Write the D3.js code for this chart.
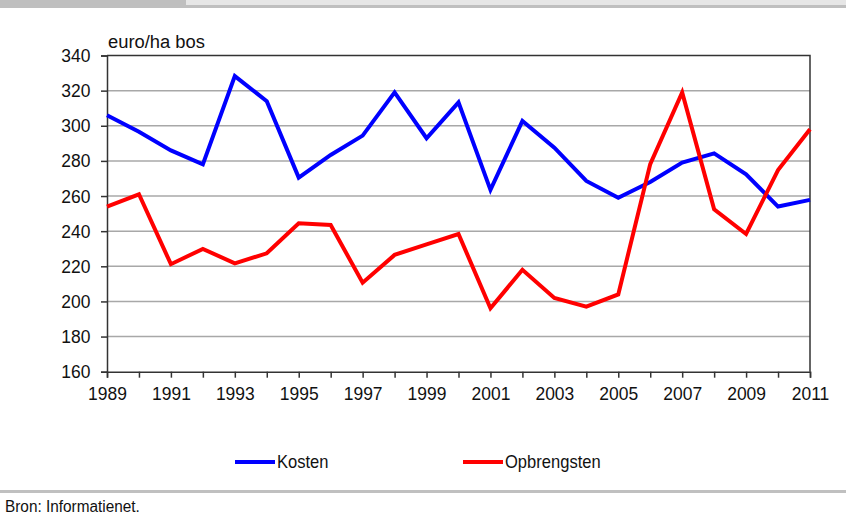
<!DOCTYPE html>
<html>
<head>
<meta charset="utf-8">
<script src="https://cdn.jsdelivr.net/npm/d3@7"></script>
<style>
  body { margin: 0; background: #fff; }
  svg { display: block; font-family: "Liberation Sans", Arial, sans-serif; }
</style>
</head>
<body>
<div id="graph"></div>
<script>
// data
var years = d3.range(1989, 2012);
var kosten = [306, 296.6, 286, 278, 328.3, 314, 270.5, 283.4, 294.4, 319, 292.9, 313.3,
              263.5, 302.7, 287.5, 268.6, 259, 268, 279, 284.3, 272.4, 254, 257.8];
var opbrengsten = [254, 261, 221.2, 229.9, 221.7, 227.4, 244.5, 243.5, 210.7, 226.5, 232.5, 238.4,
                   196.1, 218, 202, 197, 204, 278.2, 319, 252.5, 238.4, 274.8, 298];
var yTicks = [160, 180, 200, 220, 240, 260, 280, 300, 320, 340];
var xLabels = [1989, 1991, 1993, 1995, 1997, 1999, 2001, 2003, 2005, 2007, 2009, 2011];
var seriesNames = ["Kosten", "Opbrengsten"];
var seriesColors = ["#0000ff", "#ff0000"];

//measurements
var width = 846;
var height = 517;
var margin = { top: 55.5, right: 36, bottom: 145, left: 107 };
var chartWidth = width - margin.left - margin.right;
var chartHeight = 371.7 - margin.top;
var squeeze = "scale(0.92,1)";

var chart = d3.select("#graph").append("svg")
    .attr("width", width)
    .attr("height", height);

// top band (clipped header)
chart.append("rect").attr("x", 0).attr("y", 0).attr("width", width).attr("height", 8).attr("fill", "#bfbfbf");
chart.append("rect").attr("x", 186).attr("y", 0).attr("width", width - 186).attr("height", 5).attr("fill", "#e6e6e6");

var x = d3.scaleLinear().domain([1989, 2011]).range([0, chartWidth]);
var y = d3.scaleLinear().domain([160, 340]).range([chartHeight, 0]);

var plot = chart.append("g")
    .attr("transform", "translate(" + margin.left + "," + margin.top + ")");

// gridlines
plot.selectAll(".grid")
    .data(yTicks.filter(function (d) { return d > 160 && d < 340; }))
    .enter().append("line")
    .attr("x1", 0).attr("x2", chartWidth)
    .attr("y1", function (d) { return y(d); })
    .attr("y2", function (d) { return y(d); })
    .attr("stroke", "#a8a8a8")
    .attr("stroke-width", 1.5);

// box top + right
plot.append("path")
    .attr("d", "M0," + y(340) + "H" + chartWidth + "V" + chartHeight)
    .attr("fill", "none")
    .attr("stroke", "#333")
    .attr("stroke-width", 1.5);

// y axis
var yAxis = d3.axisLeft(y).tickValues(yTicks).tickSize(6).tickPadding(11);
var gy = plot.append("g").call(yAxis);
gy.select(".domain").attr("stroke", "#333").attr("stroke-width", 1.5);
gy.selectAll(".tick line").attr("stroke", "#333").attr("stroke-width", 1.5);
gy.selectAll(".tick text").attr("font-size", 19).attr("fill", "#111")
    .attr("font-family", "Liberation Sans, Arial, sans-serif")
    .attr("x", -18).attr("transform", squeeze);

// x axis
var xAxis = d3.axisBottom(x).tickValues(years).tickSize(6).tickPadding(9)
    .tickFormat(function (d) { return xLabels.indexOf(d) >= 0 ? d : ""; });
var gx = plot.append("g").attr("transform", "translate(0," + chartHeight + ")").call(xAxis);
gx.select(".domain").attr("stroke", "#333").attr("stroke-width", 1.5);
gx.selectAll(".tick line").attr("stroke", "#333").attr("stroke-width", 1.5);
gx.selectAll(".tick text").attr("font-size", 19).attr("fill", "#111")
    .attr("font-family", "Liberation Sans, Arial, sans-serif")
    .attr("transform", squeeze);

// unit label
plot.append("text")
    .attr("transform", "translate(1,-8) scale(1.02,1)")
    .attr("font-size", 18)
    .attr("fill", "#111")
    .text("euro/ha bos");

// lines
var line = d3.line()
    .x(function (d, i) { return x(years[i]); })
    .y(function (d) { return y(d); });

[kosten, opbrengsten].forEach(function (s, i) {
    plot.append("path")
        .datum(s)
        .attr("d", line)
        .attr("fill", "none")
        .attr("stroke", seriesColors[i])
        .attr("stroke-width", 4)
        .attr("stroke-linejoin", "miter");
});

// legend
var legendX = [235, 463];
var legend = chart.selectAll(".legend")
    .data(seriesNames)
    .enter().append("g")
    .attr("transform", function (d, i) { return "translate(" + legendX[i] + ",462)"; });
legend.append("line")
    .attr("x1", 0).attr("x2", 40)
    .attr("stroke", function (d, i) { return seriesColors[i]; })
    .attr("stroke-width", 4);
legend.append("text")
    .attr("transform", "translate(42,0) scale(0.92,1)")
    .attr("dy", "0.35em")
    .attr("font-size", 18)
    .attr("fill", "#111")
    .text(function (d) { return d; });

// bottom rule and source
chart.append("rect").attr("x", 0).attr("y", 490).attr("width", width).attr("height", 3).attr("fill", "#c0c0c0");
chart.append("text")
    .attr("transform", "translate(5,512) scale(0.96,1)")
    .attr("font-size", 16)
    .attr("fill", "#111")
    .text("Bron: Informatienet.");
</script>
</body>
</html>
